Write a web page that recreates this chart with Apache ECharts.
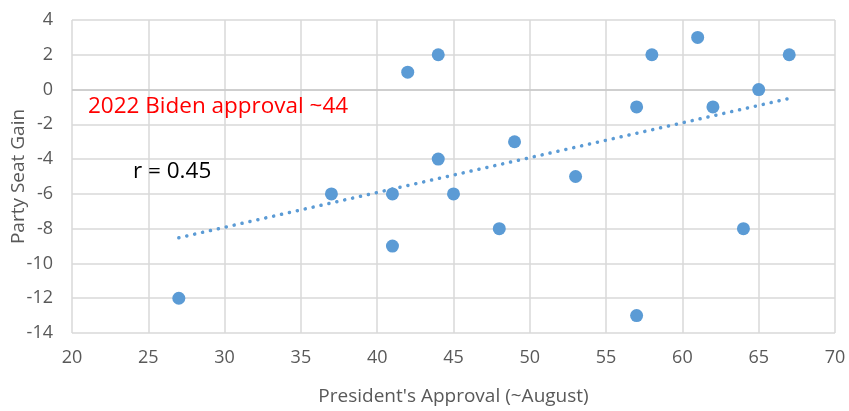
<!DOCTYPE html>
<html>
<head>
<meta charset="utf-8">
<script src="https://cdn.jsdelivr.net/npm/echarts@6/dist/echarts.min.js"></script>
<style>html,body{margin:0;padding:0;background:#fff}#c{width:849px;height:411px}</style>
</head>
<body>
<div id="c"></div>
<script>
const approval = [27, 37, 41, 41, 42, 44, 44, 45, 48, 49, 53, 57, 57, 58, 61, 62, 64, 65, 67];
const seatGain = [-12, -6, -6, -9, 1, 2, -4, -6, -8, -3, -5, -1, -13, 2, 3, -1, -8, 0, 2];
const xTicks = [20, 25, 30, 35, 40, 45, 50, 55, 60, 65, 70];
const yTicks = [-14, -12, -10, -8, -6, -4, -2, 0, 2, 4];
const annotationText = "2022 Biden approval ~44";
const rText = "r = 0.45";

// Linear trendline (least squares) from the data
const n = approval.length;
const mx = approval.reduce((a, b) => a + b, 0) / n;
const my = seatGain.reduce((a, b) => a + b, 0) / n;
let sxy = 0, sxx = 0;
for (let i = 0; i < n; i++) { sxy += (approval[i] - mx) * (seatGain[i] - my); sxx += (approval[i] - mx) ** 2; }
const slope = sxy / sxx, intercept = my - slope * mx;
const xMin = Math.min(...approval), xMax = Math.max(...approval);
const trend = [[xMin, intercept + slope * xMin], [xMax, intercept + slope * xMax]];

const font = "'Open Sans', sans-serif";
const chart = echarts.init(document.getElementById('c'), null, {renderer: 'canvas'});
chart.setOption({
  animation: false,
  grid: {left: 72, right: 14, top: 20, bottom: 78, containLabel: false, outerBoundsMode: 'none'},
  xAxis: {
    type: 'value', min: xTicks[0], max: xTicks[xTicks.length - 1], interval: 5,
    name: "President's Approval (~August)", nameLocation: 'middle', nameGap: 54, nameMoveOverlap: false,
    nameTextStyle: {color: '#595959', fontSize: 19, fontFamily: font},
    axisLine: {show: false}, axisTick: {show: false},
    axisLabel: {color: '#595959', fontSize: 18, fontFamily: font, margin: 16},
    splitLine: {show: true, lineStyle: {color: '#d9d9d9', width: 1.5}}
  },
  yAxis: {
    type: 'value', min: yTicks[0], max: yTicks[yTicks.length - 1], interval: 2,
    name: 'Party Seat Gain', nameLocation: 'middle', nameGap: 44, nameMoveOverlap: false,
    nameTextStyle: {color: '#595959', fontSize: 19, fontFamily: font},
    axisLine: {show: false}, axisTick: {show: false},
    axisLabel: {color: '#595959', fontSize: 18, fontFamily: font, margin: 19},
    splitLine: {show: true, lineStyle: {color: '#d9d9d9', width: 1.5}}
  },
  series: [
    {
      type: 'line', data: trend, symbol: 'none', silent: true, z: 1,
      lineStyle: {color: '#5B9BD5', width: 3.5, type: [0.1, 8], cap: 'round'},
      markLine: {
        silent: true, symbol: 'none', label: {show: false}, z: 0,
        lineStyle: {color: '#c8c8c8', width: 1.5, type: 'solid'},
        data: [{yAxis: 0}]
      }
    },
    {
      type: 'scatter', data: approval.map((x, i) => [x, seatGain[i]]),
      symbolSize: 13, itemStyle: {color: '#5B9BD5', opacity: 1}, z: 2
    }
  ],
  graphic: [
    {type: 'text', x: 88, y: 107, z: 100, style: {text: annotationText, fill: '#ff0000', font: "22.5px " + font, verticalAlign: 'middle'}},
    {type: 'text', x: 133, y: 172, z: 100, style: {text: rText, fill: '#000000', font: "22.5px " + font, verticalAlign: 'middle'}}
  ]
});
</script>
</body>
</html>
